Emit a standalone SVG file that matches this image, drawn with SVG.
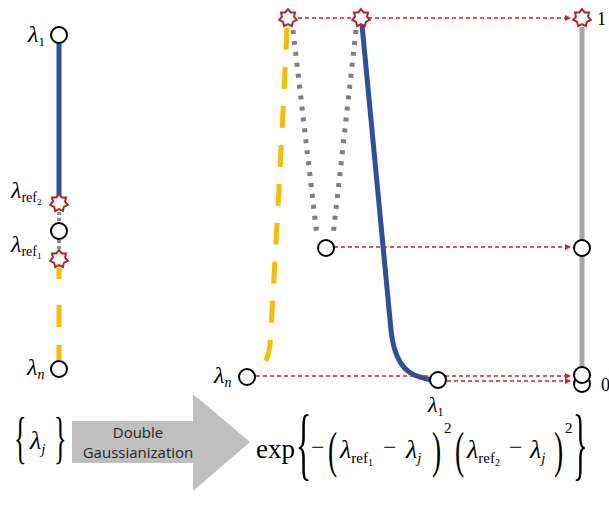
<svg xmlns="http://www.w3.org/2000/svg" width="609" height="512" viewBox="0 0 609 512">
<style>
.node{fill:#fff;stroke:#000;stroke-width:2}
.star{fill:#fff;stroke:#B0242A;stroke-width:2;stroke-linejoin:miter}
.lam{font-family:"Liberation Serif",serif;font-style:italic;fill:#000}
.up{font-style:normal}
.serif{font-family:"Liberation Serif",serif;fill:#000}
.red{stroke:#C0282D;stroke-width:1.3;stroke-dasharray:4 3;fill:none}
.blue{stroke:#2E4F9B;stroke-width:5;fill:none}
.yellow{stroke:#F5BE00;stroke-width:5;fill:none;stroke-dasharray:22 17}
.gray{stroke:#7F7F7F;stroke-width:5;fill:none;stroke-dasharray:4 7}
.sans{font-family:"Open Sans","Noto Sans",sans-serif;font-size:15px;fill:#262626;text-anchor:middle}
</style>
<defs>
<polygon id="st" class="star" points="0,-9 2.69,-5.59 7.04,-5.61 6.04,-1.38 8.77,2 4.85,3.87 3.91,8.11 0,6.2 -3.91,8.11 -4.85,3.87 -8.77,2 -6.04,-1.38 -7.04,-5.61 -2.69,-5.59"/>
<marker id="ah" markerWidth="8" markerHeight="8" refX="6" refY="3" orient="auto" markerUnits="userSpaceOnUse">
<path d="M0,0 L6,3 L0,6 Z" fill="#C0282D"/>
</marker>
</defs>

<g id="connectors">
<line class="blue" x1="59" y1="43" x2="59" y2="196"/>
<line x1="59" y1="212" x2="59" y2="222" stroke="#8C8C8C" stroke-width="4" stroke-dasharray="3 3"/>
<line x1="59" y1="240" x2="59" y2="250" stroke="#8C8C8C" stroke-width="4" stroke-dasharray="3 3"/>
<line x1="59" y1="268" x2="59" y2="361" stroke="#F5BE00" stroke-width="5" stroke-dasharray="11 26 22 18 22"/>
<path class="yellow" d="M287,28 C282,140 274,280 270,345 Q268,366 252,376"/>
<path class="gray" d="M293,30 L317,236"/>
<path class="gray" d="M356,30 L333,236"/>
<path class="blue" d="M362,25 L391,330 Q395,371 420,377 L431,380" stroke-width="5.5"/>
<line x1="582" y1="27" x2="582" y2="372" stroke="#A6A6A6" stroke-width="5"/>
<line class="red" x1="298" y1="18" x2="571" y2="18" marker-end="url(#ah)"/>
<line class="red" x1="334" y1="247" x2="571" y2="247" marker-end="url(#ah)"/>
<line class="red" x1="256" y1="376" x2="571" y2="376" marker-end="url(#ah)"/>
<line class="red" x1="447" y1="381" x2="571" y2="381" marker-end="url(#ah)"/>
</g>

<g id="left-l1"><circle class="node" cx="59" cy="35" r="8"/><text class="lam" x="28" y="42" font-size="24">λ<tspan class="up" font-size="13" dy="4">1</tspan></text></g>
<g id="left-ref2"><use href="#st" x="59" y="203"/><text class="lam" x="11" y="198" font-size="24">λ<tspan class="up" font-size="14" dy="4">ref</tspan><tspan class="up" font-size="9" dy="3">2</tspan></text></g>
<g id="left-mid"><circle class="node" cx="59" cy="231" r="8"/></g>
<g id="left-ref1"><use href="#st" x="59" y="259"/><text class="lam" x="11" y="252" font-size="24">λ<tspan class="up" font-size="14" dy="4">ref</tspan><tspan class="up" font-size="9" dy="3">1</tspan></text></g>
<g id="left-ln"><circle class="node" cx="59" cy="369" r="8"/><text class="lam" x="27" y="375" font-size="24">λ<tspan font-size="14" dy="4">n</tspan></text></g>

<g id="mid-starA"><use href="#st" x="288" y="18"/></g>
<g id="mid-starB"><use href="#st" x="361" y="18"/></g>
<g id="mid-min"><circle class="node" cx="326" cy="248" r="8"/></g>
<g id="mid-ln"><circle class="node" cx="247" cy="377" r="8"/><text class="lam" x="214" y="383" font-size="24">λ<tspan font-size="14" dy="4">n</tspan></text></g>
<g id="mid-l1"><circle class="node" cx="438" cy="380" r="8"/><text class="lam" x="428" y="412" font-size="22">λ<tspan class="up" font-size="12" dy="4">1</tspan></text></g>

<g id="right-1"><use href="#st" x="582" y="18"/><text class="serif" x="597" y="25" font-size="18">1</text></g>
<g id="right-mid"><circle class="node" cx="582" cy="248" r="8"/></g>
<g id="right-0"><circle class="node" cx="582" cy="384" r="8"/><circle class="node" cx="582" cy="375" r="8"/><text class="serif" x="601" y="391" font-size="18">0</text></g>

<g id="bottom">
<text class="serif" font-size="58" transform="translate(14,457) scale(0.45,1)">{</text>
<text class="lam" x="30" y="449" font-size="26">λ<tspan font-size="15" dy="5">j</tspan></text>
<text class="serif" font-size="58" transform="translate(54,457) scale(0.45,1)">}</text>
<polygon points="72,421 193,421 193,394 250,442 193,491 193,463 72,463" fill="#BFBFBF"/>
<text class="sans" x="138" y="438">Double</text>
<text class="sans" x="138" y="458">Gaussianization</text>

<text class="serif" x="256" y="458" font-size="27">exp</text>
<text class="serif" font-size="80" transform="translate(296,470) scale(0.4,1)">{</text>
<text class="serif" x="311" y="455" font-size="24">−</text>
<text class="serif" font-size="50" transform="translate(328,467) scale(0.55,1)">(</text>
<text class="lam" x="340" y="458" font-size="26">λ<tspan class="up" font-size="15" dy="5">ref</tspan><tspan class="up" font-size="10" dy="3">1</tspan></text>
<text class="serif" x="383" y="455" font-size="24">−</text>
<text class="lam" x="406" y="458" font-size="26">λ<tspan font-size="15" dy="5">j</tspan></text>
<text class="serif" font-size="50" transform="translate(432,467) scale(0.55,1)">)</text>
<text class="serif" x="444" y="433" font-size="15">2</text>
<text class="serif" font-size="50" transform="translate(455,467) scale(0.55,1)">(</text>
<text class="lam" x="467" y="458" font-size="26">λ<tspan class="up" font-size="15" dy="5">ref</tspan><tspan class="up" font-size="10" dy="3">2</tspan></text>
<text class="serif" x="509" y="455" font-size="24">−</text>
<text class="lam" x="530" y="458" font-size="26">λ<tspan font-size="15" dy="5">j</tspan></text>
<text class="serif" font-size="50" transform="translate(554,467) scale(0.55,1)">)</text>
<text class="serif" x="565" y="433" font-size="15">2</text>
<text class="serif" font-size="80" transform="translate(573,470) scale(0.38,1)">}</text>
</g>
</svg>
